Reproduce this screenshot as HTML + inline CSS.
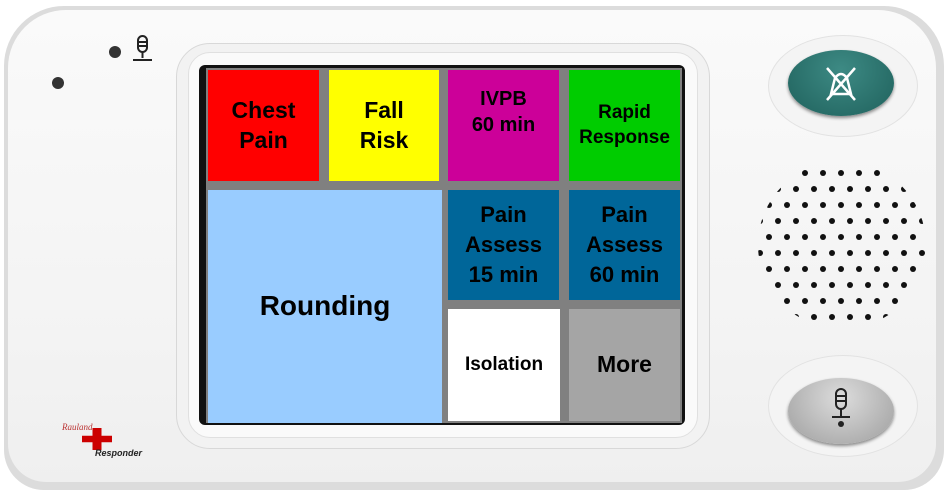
<!DOCTYPE html>
<html><head><style>
body{margin:0;width:949px;height:495px;background:#fff;position:relative;overflow:hidden;font-family:"Liberation Sans",Arial,sans-serif}
.a{position:absolute}
.t{position:absolute;display:flex;align-items:center;justify-content:center;text-align:center;font-weight:bold;color:#000;line-height:1.3}
</style></head><body>
<div class="a" style="left:4px;top:6px;width:940px;height:484px;border-radius:60px 60px 40px 40px;background:#dcdcdc"></div>
<div class="a" style="left:8px;top:10px;width:928px;height:472px;border-radius:58px 58px 38px 38px;background:linear-gradient(#fafafa,#f3f3f3 70%,#efefef)"></div>
<div class="a" style="left:176px;top:43px;width:532px;height:404px;border-radius:34px;background:#f2f2f2;border:1px solid #d8d8d8"></div>
<div class="a" style="left:188px;top:52px;width:508px;height:384px;border-radius:22px;background:#fafafa;border:1px solid #e0e0e0"></div>
<div class="a" style="left:199px;top:65px;width:486px;height:360px;border-radius:6px;background:#111"></div>
<div class="a" style="left:206px;top:68px;width:476px;height:355px;background:#808080"></div>
<div class="t" style="left:208px;top:70px;width:111px;height:111px;background:#f00;font-size:23px">Chest<br>Pain</div>
<div class="t" style="left:329px;top:70px;width:110px;height:111px;background:#ff0;font-size:23px">Fall<br>Risk</div>
<div class="t" style="left:448px;top:70px;width:111px;height:111px;background:#c09;font-size:20px;align-items:flex-start"><div style="margin-top:16px">IVPB<br>60 min</div></div>
<div class="t" style="left:569px;top:70px;width:111px;height:111px;background:#0c0;font-size:19px">Rapid<br>Response</div>
<div class="t" style="left:208px;top:190px;width:234px;height:233px;background:#9cf;font-size:28px">Rounding</div>
<div class="t" style="left:448px;top:190px;width:111px;height:110px;background:#069;font-size:22px;line-height:1.35">Pain<br>Assess<br>15 min</div>
<div class="t" style="left:569px;top:190px;width:111px;height:110px;background:#069;font-size:22px;line-height:1.35">Pain<br>Assess<br>60 min</div>
<div class="t" style="left:448px;top:309px;width:112px;height:112px;background:#fff;font-size:19px">Isolation</div>
<div class="t" style="left:569px;top:309px;width:111px;height:112px;background:#a5a5a5;font-size:23px">More</div>
<div class="a" style="left:52px;top:77px;width:12px;height:12px;border-radius:50%;background:#333"></div>
<div class="a" style="left:109px;top:46px;width:12px;height:12px;border-radius:50%;background:#333"></div>
<svg class="a" style="left:128px;top:34px" width="28" height="30"><rect x="10" y="2" width="9" height="16" rx="4.5" fill="none" stroke="#222" stroke-width="2"/><path d="M10 8h9M10 12h9M14.5 18v6M5 26h19" stroke="#222" stroke-width="2"/></svg>
<div class="a" style="left:768px;top:35px;width:148px;height:100px;border-radius:50%;background:#f4f4f4;border:1px solid #e2e2e2"></div>
<div class="a" style="left:788px;top:50px;width:106px;height:66px;border-radius:50%;background:radial-gradient(ellipse at 50% 30%,#3d8a84,#1f615c);box-shadow:0 2px 3px #888"></div>
<svg class="a" style="left:823px;top:64px" width="36" height="40"><path d="M8 30 L12 14 Q18 6 24 14 L28 30 Z M4 4 L32 36 M32 4 L4 36" fill="none" stroke="#fff" stroke-width="2.5"/></svg>
<div class="a" style="left:768px;top:355px;width:148px;height:100px;border-radius:50%;background:#f4f4f4;border:1px solid #e2e2e2"></div>
<div class="a" style="left:788px;top:378px;width:106px;height:66px;border-radius:50%;background:radial-gradient(ellipse at 50% 30%,#dcdcdc,#9e9e9e);box-shadow:0 2px 3px #888"></div>
<svg class="a" style="left:826px;top:386px" width="30" height="48"><rect x="10" y="3" width="10" height="20" rx="5" fill="none" stroke="#222" stroke-width="2"/><path d="M10 10h10M10 15h10M15 23v7M6 31h18" stroke="#222" stroke-width="2"/><circle cx="15" cy="38" r="3" fill="#222"/></svg>
<svg class="a" style="left:750px;top:150px" width="190" height="190">
<defs><pattern id="p" width="18" height="32" patternUnits="userSpaceOnUse" x="1" y="-1"><circle cx="9" cy="8" r="3" fill="#111"/><circle cx="0" cy="24" r="3" fill="#111"/><circle cx="18" cy="24" r="3" fill="#111"/></pattern>
<clipPath id="c"><circle cx="92" cy="95" r="84"/></clipPath></defs>
<rect width="190" height="190" fill="url(#p)" clip-path="url(#c)"/></svg>
<div class="a" style="left:62px;top:422px;font-size:9px;font-style:italic;color:#b33;font-family:'Liberation Serif',serif">Rauland</div>
<div class="a" style="left:82px;top:428px;width:30px;height:22px;background:#c00;clip-path:polygon(35% 0,65% 0,65% 35%,100% 35%,100% 65%,65% 65%,65% 100%,35% 100%,35% 65%,0 65%,0 35%,35% 35%)"></div>
<div class="a" style="left:95px;top:448px;font-size:9px;font-weight:bold;font-style:italic;color:#222">Responder</div>
</body></html>
